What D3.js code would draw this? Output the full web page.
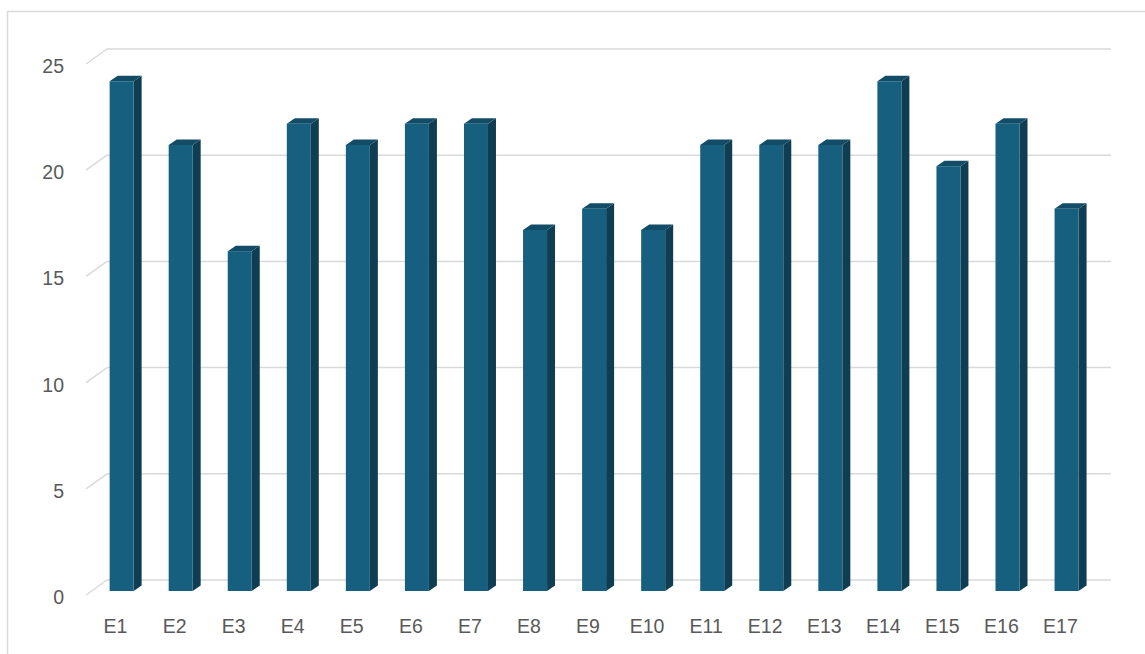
<!DOCTYPE html>
<html><head><meta charset="utf-8">
<script src="https://cdn.jsdelivr.net/npm/d3@7"></script>
<style>body{margin:0;background:#fff}svg{display:block}</style>
</head><body>
<script>
const categories = ["E1","E2","E3","E4","E5","E6","E7","E8","E9","E10","E11","E12","E13","E14","E15","E16","E17"];
const values = [24,21,16,22,21,22,22,17,18,17,21,21,21,24,20,22,18];
const yTicks = [0,5,10,15,20,25];

const W = 1145, H = 654;
const svg = d3.select("body").append("svg").attr("width", W).attr("height", H);

// chart border
svg.append("rect").attr("x", 7.5).attr("y", 11.5).attr("width", W + 20).attr("height", H + 20)
  .attr("fill", "none").attr("stroke", "#d9d9d9").attr("stroke-width", 1.5);

// back wall scales
const x = d3.scaleBand().domain(categories).range([107, 1111]);
const y = d3.scaleLinear().domain([0, 25]).range([580, 49]);
const depth = {dx: -21, dy: 15};   // back -> front of floor
const barPlane = 11 / 15;          // bar front face position along depth
const barW = 24, bdx = 8, bdy = 5.5;

const grid = svg.append("g");
yTicks.forEach(t => {
  const yb = y(t);
  grid.append("line").attr("x1", 107).attr("x2", 1111).attr("y1", yb).attr("y2", yb)
    .attr("stroke", "#d9d9d9").attr("stroke-width", 1.5);
  grid.append("line").attr("x1", 107).attr("y1", yb).attr("x2", 107 + depth.dx).attr("y2", yb + depth.dy)
    .attr("stroke", "#d9d9d9").attr("stroke-width", 1.5);
  svg.append("text").attr("x", 64).attr("y", yb + depth.dy + 9)
    .attr("text-anchor", "end").attr("font-family", "Liberation Sans, Arial, sans-serif")
    .attr("font-size", 19.5).attr("fill", "#595959").text(t);
});

const shX = depth.dx * barPlane, shY = depth.dy * barPlane;
const bars = svg.append("g");
categories.forEach((c, i) => {
  const v = values[i];
  const cx = x(c) + x.bandwidth() / 2 + shX + 0.5;
  const x0 = cx - barW / 2, x1 = cx + barW / 2;
  const yb0 = y(0) + shY, yt = y(v) + shY;
  // side face
  bars.append("path").attr("d", `M${x1},${yb0} L${x1 + bdx},${yb0 - bdy} L${x1 + bdx},${yt - bdy} L${x1},${yt} Z`)
    .attr("fill", "#0f3e53");
  // top face
  bars.append("path").attr("d", `M${x0},${yt} L${x0 + bdx},${yt - bdy} L${x1 + bdx},${yt - bdy} L${x1},${yt} Z`)
    .attr("fill", "#124c66");
  // front face
  bars.append("rect").attr("x", x0).attr("y", yt).attr("width", barW).attr("height", yb0 - yt)
    .attr("fill", "#175f7e");
  // category label at front floor
  svg.append("text").attr("x", x(c) + x.bandwidth() / 2 + depth.dx).attr("y", 633)
    .attr("text-anchor", "middle").attr("font-family", "Liberation Sans, Arial, sans-serif")
    .attr("font-size", 19.5).attr("fill", "#595959").text(c);
});
</script>
</body></html>
